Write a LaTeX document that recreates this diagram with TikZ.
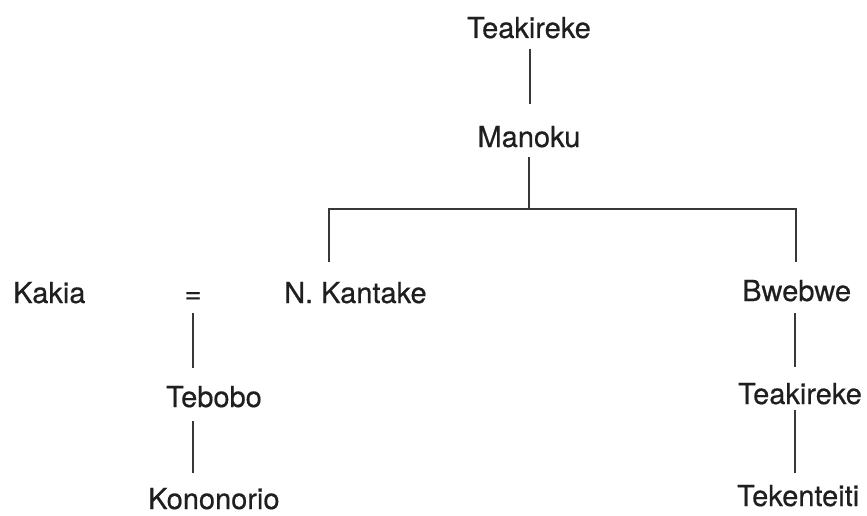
\documentclass[tikz,border=0pt]{standalone}
\usepackage{fontspec}
\setmainfont[FakeBold=0.5]{TeX Gyre Heros}
\begin{document}
\begin{tikzpicture}[x=1pt,y=-1pt,
  lbl/.style={inner sep=0pt, font=\fontsize{29}{31}\selectfont, text=black!88},
  kin/.style={line width=2.8pt, draw=black!78, line join=miter}]
\useasboundingbox (0,0) rectangle (867,516);

% people
\node[lbl, anchor=base] (top) at (529,38) {Teakireke};
\node[lbl, anchor=base] (man) at (529,147) {Manoku};
\node[lbl, anchor=base west] (kakia) at (13,303) {Kakia};
\node[lbl, anchor=base] (eq) at (193,303) {=};
\node[lbl, anchor=base west] (kant) at (284,303) {N. Kantake};
\node[lbl, anchor=base west] (bweb) at (742,301) {Bwebwe};
\node[lbl, anchor=base west] (teb) at (166,407) {Tebobo};
\node[lbl, anchor=base west] (teak) at (738,404) {Teakireke};
\node[lbl, anchor=base west] (kono) at (148,509) {Kononorio};
\node[lbl, anchor=base west] (teken) at (737,506) {Tekenteiti};

% line ends
\coordinate (topB) at (530,49);   \coordinate (manT) at (530,104);
\coordinate (manB) at (529,157);  \coordinate (sib)  at (529,209);
\coordinate (kantT) at (329,262); \coordinate (kantJ) at (329,209);
\coordinate (bwebT) at (796,262); \coordinate (bwebJ) at (796,209);
\coordinate (eqB) at (193,313);   \coordinate (tebT) at (193,368);
\coordinate (tebB) at (193,421);  \coordinate (konoT) at (193,473);
\coordinate (bwebB) at (795,313); \coordinate (teakT) at (795,367);
\coordinate (teakB) at (795,410); \coordinate (tekenT) at (795,473);

% descent lines
\draw[kin] (topB) -- (manT);
\draw[kin] (manB) -- (sib);
\draw[kin] (kantT) -- (kantJ) -- (bwebJ) -- (bwebT);
\draw[kin] (eqB) -- (tebT);
\draw[kin] (tebB) -- (konoT);
\draw[kin] (bwebB) -- (teakT);
\draw[kin] (teakB) -- (tekenT);
\end{tikzpicture}
\end{document}
